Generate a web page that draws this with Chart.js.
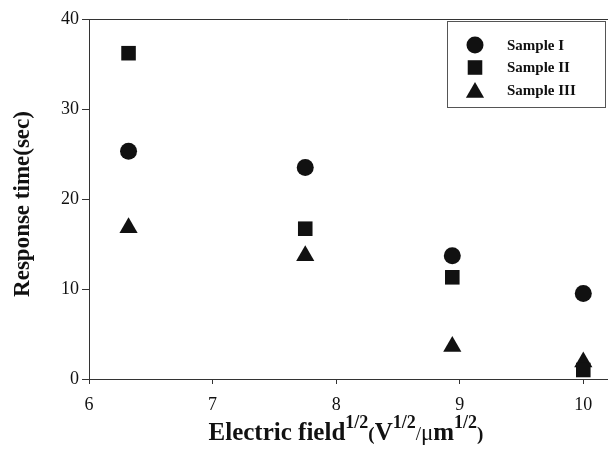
<!DOCTYPE html>
<html>
<head>
<meta charset="utf-8">
<title>Response time vs electric field</title>
<script src="https://cdn.jsdelivr.net/npm/chart.js"></script>
<style>
  html, body { margin: 0; padding: 0; background: #fff; }
  #wrap { position: relative; width: 608px; height: 455px; }
</style>
</head>
<body>
<div id="wrap"><canvas id="chart"></canvas></div>
<script>
/* ===================== DATA ===================== */

// square root of the applied field, (V/um)^1/2
const fieldRoot = [6.32, 7.75, 8.94, 10.0];

const sampleI   = [25.3, 23.5, 13.7, 9.5];
const sampleII  = [36.2, 16.7, 11.3, 1.0];
const sampleIII = [16.8, 13.7, 3.6, 1.9];

const seriesNames  = ["Sample I", "Sample II", "Sample III"];
const seriesShapes = ["circle", "rect", "triangle"];
const seriesSizes  = [8.5, 10.3, 10.5];

const xTicks = [6, 7, 8, 9, 10];
const yTicks = [0, 10, 20, 30, 40];

/* ===================== HELPERS ===================== */

const SERIF = "'Liberation Serif', 'Times New Roman', serif";
const INK = "#111";
const AXIS = "#333";

function toPoints(values) {
  return values.map((v, i) => ({ x: fieldRoot[i], y: v }));
}

const datasets = [sampleI, sampleII, sampleIII].map((vals, i) => ({
  label: seriesNames[i],
  data: toPoints(vals),
  pointStyle: seriesShapes[i],
  pointRadius: seriesSizes[i],
  pointHoverRadius: seriesSizes[i],
  backgroundColor: INK,
  borderColor: INK,
  borderWidth: 0,
  showLine: false
}));

/* ===================== PLUGINS ===================== */

// top frame line
const frameTop = {
  id: "frameTop",
  afterDraw(chart) {
    const { ctx, chartArea: a } = chart;
    ctx.save();
    ctx.strokeStyle = AXIS;
    ctx.lineWidth = 1;
    ctx.beginPath();
    ctx.moveTo(a.left, a.top + 0.5);
    ctx.lineTo(a.right, a.top + 0.5);
    ctx.stroke();
    ctx.restore();
  }
};

// legend box in the upper right corner
const boxLegend = {
  id: "boxLegend",
  afterDraw(chart) {
    const { ctx, chartArea: a } = chart;
    const left = 447, top = a.top + 2, bottom = 107, right = a.right - 3;
    ctx.save();
    ctx.strokeStyle = "#555";
    ctx.lineWidth = 1;
    ctx.strokeRect(left + 0.5, top + 0.5, right - left, bottom - top);

    ctx.font = "bold 15px " + SERIF;
    ctx.textBaseline = "middle";
    ctx.textAlign = "left";
    seriesNames.forEach((name, i) => {
      const y = 45 + i * 22.5;
      ctx.fillStyle = INK;
      Chart.helpers.drawPoint(ctx, {
        pointStyle: seriesShapes[i],
        radius: seriesSizes[i],
        rotation: 0,
        borderWidth: 0
      }, 475, i === 2 ? y + 2.5 : y);
      ctx.fillText(name, 507, y + 1);
    });
    ctx.restore();
  }
};

// axis titles, the x one carries superscripts
const axisTitles = {
  id: "axisTitles",
  afterDraw(chart) {
    const { ctx } = chart;
    ctx.save();
    ctx.fillStyle = INK;

    // y title
    ctx.font = "bold 23px " + SERIF;
    ctx.textAlign = "center";
    ctx.textBaseline = "middle";
    ctx.translate(23, 204);
    ctx.rotate(-Math.PI / 2);
    ctx.fillText("Response time(sec)", 0, 0);
    ctx.setTransform(1, 0, 0, 1, 0, 0);

    // x title
    const base = 440;
    const sup = "bold 18px " + SERIF;
    const parts = [
      { t: "Electric field", f: "bold 25px " + SERIF, dy: 0 },
      { t: "1/2", f: sup, dy: -12 },
      { t: "(", f: "bold 19px " + SERIF, dy: 0 },
      { t: "V", f: "bold 25px " + SERIF, dy: 0 },
      { t: "1/2", f: sup, dy: -12 },
      { t: "/", f: "19px " + SERIF, dy: 0 },
      { t: "\u03bc", f: "23px " + SERIF, dy: 0 },
      { t: "m", f: "bold 25px " + SERIF, dy: 0 },
      { t: "1/2", f: sup, dy: -12 },
      { t: ")", f: "bold 19px " + SERIF, dy: 0 }
    ];
    let total = 0;
    parts.forEach(p => { ctx.font = p.f; p.w = ctx.measureText(p.t).width; total += p.w; });
    let x = 346 - total / 2;
    ctx.textAlign = "left";
    ctx.textBaseline = "alphabetic";
    parts.forEach(p => {
      ctx.font = p.f;
      ctx.fillText(p.t, x, base + p.dy);
      x += p.w;
    });
    ctx.restore();
  }
};

/* ===================== CHART ===================== */

new Chart(document.getElementById("chart"), {
  type: "scatter",
  data: { datasets },
  options: {
    responsive: true,
    maintainAspectRatio: false,
    animation: false,
    layout: { autoPadding: false, padding: { top: 19, right: 0, left: 0, bottom: 0 } },
    plugins: {
      legend: { display: false },
      tooltip: { enabled: false }
    },
    scales: {
      x: {
        type: "linear",
        min: 6,
        max: 10.2,
        afterBuildTicks: s => { s.ticks = xTicks.map(v => ({ value: v })); },
        afterFit: s => { s.height = 76; },
        grid: { drawOnChartArea: false, drawTicks: true, tickLength: 5, color: AXIS },
        border: { display: true, color: AXIS, width: 1 },
        ticks: { color: INK, padding: 10, font: { family: SERIF, size: 18 } }
      },
      y: {
        type: "linear",
        min: 0,
        max: 40,
        afterBuildTicks: s => { s.ticks = yTicks.map(v => ({ value: v })); },
        afterFit: s => { s.width = 89; },
        grid: { drawOnChartArea: false, drawTicks: true, tickLength: 7, color: AXIS },
        border: { display: true, color: AXIS, width: 1 },
        ticks: { color: INK, padding: 3, font: { family: SERIF, size: 18 } }
      }
    }
  },
  plugins: [frameTop, boxLegend, axisTitles]
});
</script>
</body>
</html>
